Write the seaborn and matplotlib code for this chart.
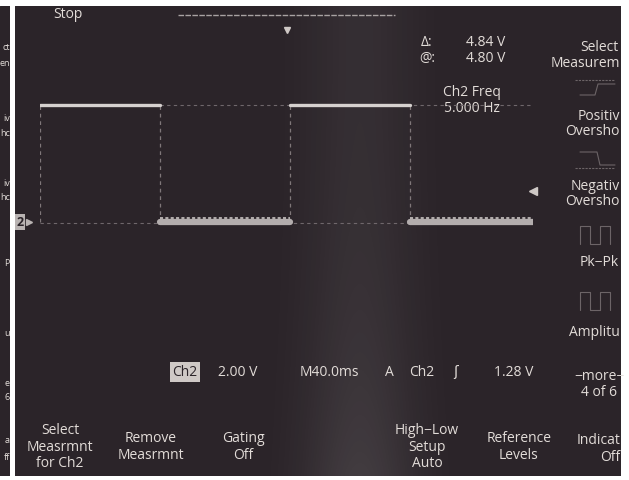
import numpy as np
import pandas as pd
import seaborn as sns
from matplotlib import pyplot as plt
from matplotlib.patches import Rectangle

# Ch2 square wave (2.00 V/div, 40.0 ms/div)
edge_ms = [0, 97, 203, 300, 400]       # transition times, ms from left of graticule
level_v = [4.80, 0.0, 4.80, 0.0]        # level held between the edges
cursor_v = [4.80, -0.04]                # the two H-bar cursors
trig_level_v = 1.28
trig_pos_ms = 200

readout_top = [('\u0394:', '4.84 V', 42), ('@:', '4.80 V', 58)]
freq_lines = ['Ch2 Freq', '5.000 Hz']
# right-hand menu, as much of each word as the photo shows
side_full = [('Select', 47), ('Pk\u2212Pk', 262), ('\u2212more\u2212', 376), ('4 of 6', 392)]
side_cut = [('Measurem', 63), ('Positiv', 116), ('Oversho', 131), ('Negativ', 186),
            ('Oversho', 201), ('Amplitu', 332), ('Indicat', 440), ('Off', 457)]
bottom_menu = ['Select\nMeasrmnt\nfor Ch2', 'Remove\nMeasrmnt', 'Gating\nOff', '',
               'High\u2212Low\nSetup\nAuto', 'Reference\nLevels']
bottom_menu_x = [60, 151, 243, 335, 427, 519]
left_bits = ['ct', 'en', 'iv', 'hc', 'iv', 'hc', 'P', 'u', 'e', '6', 'a', 'ff']
left_bits_y = [47, 63, 118, 133, 183, 197, 263, 333, 383, 397, 440, 457]

bg = '#2b2429'
fg = '#e2dcd8'
trace = '#d6d1cf'

sns.set_style('dark', {'axes.facecolor': bg})
plt.rcParams['font.family'] = ['Open Sans', 'DejaVu Sans']

W, H = 629, 480
fig = plt.figure(figsize=(W / 100, H / 100), dpi=100, facecolor='white')

def px_axes(x0, y0, x1, y1):
    a = fig.add_axes([x0 / W, 1 - y1 / H, (x1 - x0) / W, (y1 - y0) / H])
    a.set_axis_off()
    return a

# strip of the previous screenshot on the far left
left = px_axes(0, 6, 10, 476)
left.add_patch(Rectangle((0, 0), 1, 1, color=bg, transform=left.transAxes))
left.set_xlim(0, 10)
left.set_ylim(476, 6)
for s, y in zip(left_bits, left_bits_y):
    left.text(9.8, y, s, ha='right', va='center', color=fg, fontsize=6.5)

# the scope screen, in pixel units for the text layout
scr = px_axes(15, 6, 621, 476)
scr.set_xlim(15, 621)
scr.set_ylim(476, 6)
scr.add_patch(Rectangle((0, 0), 1, 1, color=bg, transform=scr.transAxes, zorder=0))
# soft lighter streak from the photo (texture only)
gx = np.linspace(15, 621, 300)
gy = np.linspace(6, 476, 120)
streak = np.exp(-((gx[None, :] - 360) / 55) ** 2) * (0.05 + 0.06 * (gy[:, None] / 476) ** 3)
scr.imshow(np.dstack([np.ones_like(streak)] * 3 + [streak]), extent=(15, 621, 476, 6),
           aspect='auto', zorder=0.5, interpolation='bilinear')

txt = dict(color=fg, fontsize=10, linespacing=1.15)
scr.text(68, 14, 'Stop', ha='center', va='center', **txt)
for lab, val, y in readout_top:
    scr.text(427, y, lab, ha='center', va='center', **txt)
    scr.text(505, y, val, ha='right', va='center', **txt)
scr.text(472, 92, freq_lines[0], ha='center', va='center', **txt)
scr.text(472, 108, freq_lines[1], ha='center', va='center', **txt)
for lab, y in side_full:
    scr.text(599, y, lab, ha='center', va='center', **txt)
for lab, y in side_cut:
    scr.text(620, y, lab, ha='right', va='center', **txt)
for lab, x in zip(bottom_menu, bottom_menu_x):
    scr.text(x, 447, lab, ha='center', va='center', **txt)

# bottom readout line
scr.text(185, 372, 'Ch2', ha='center', va='center', color=bg, fontsize=10,
         bbox=dict(boxstyle='square,pad=0.15', fc='#cfc9c6', ec='none'))
scr.text(218, 372, '2.00 V', ha='left', va='center', **txt)
scr.text(300, 372, 'M40.0ms', ha='left', va='center', **txt)
scr.text(389, 372, 'A', ha='center', va='center', **txt)
scr.text(422, 372, 'Ch2', ha='center', va='center', **txt)
scr.text(456, 372, '\u0283', ha='center', va='center', **txt)
scr.text(533, 372, '1.28 V', ha='right', va='center', **txt)

# faint menu pictograms
ic = dict(color='#6c6467', lw=0.8)
scr.plot([575, 615], [80, 80], ls=(0, (2, 1)), **ic)
scr.plot([580, 595, 598, 615], [95, 95, 84, 84], **ic)
scr.plot([580, 597, 600, 615], [152, 152, 165, 165], **ic)
scr.plot([575, 615], [168, 168], ls=(0, (2, 1)), **ic)
for yy in (226, 292):
    scr.plot([580, 580, 590, 590, 600, 600, 610, 610],
             [yy + 18, yy, yy, yy + 18, yy + 18, yy, yy, yy + 18], **ic)

# waveform on its own graticule axes
ax = px_axes(40, 15, 533, 429)
ax.set_xlim(0, 400)
ax.set_ylim(-8.5, 8.5)

t = np.repeat(edge_ms, 2)[1:-1]
v = np.repeat(level_v, 2)
df = pd.DataFrame({'t': t, 'v': v, 'seg': np.repeat(np.arange(len(level_v)), 2)})
hi = df[df.v > 1]
lo = df[df.v <= 1]

for cv in cursor_v:
    ax.axhline(cv, color='#6f676b', lw=0.8, ls=(0, (3, 3)), zorder=1)
sns.lineplot(data=lo, x='t', y='v', units='seg', estimator=None, color='#b3adad',
             lw=4.5, ax=ax, zorder=3)
sns.lineplot(data=lo.assign(v=lo.v + 0.17), x='t', y='v', units='seg', estimator=None,
             color=trace, lw=1.1, ls=(0, (2, 1.5)), ax=ax, zorder=4)
sns.lineplot(data=hi, x='t', y='v', units='seg', estimator=None, color=trace,
             lw=2.4, ax=ax, zorder=4)
ax.vlines(edge_ms[:-1], min(level_v), max(level_v), color='#7f7779', lw=0.9,
          ls=(0, (3, 3)), zorder=2)

# record bar, trigger position and trigger level markers
ax.plot([0.28, 0.72], [1, 1], transform=ax.transAxes, color='#a8a2a2', lw=1,
        ls=(0, (4, 1)), clip_on=False)
ax.plot(trig_pos_ms, 7.9, marker='v', ms=5, color='#cfc9c6', clip_on=False)
ax.plot(400, trig_level_v, marker='<', ms=6, color='#cfc9c6', clip_on=False)
ax.text(-16, 0, '2', ha='center', va='center', color=bg, fontsize=9, fontweight='bold',
        bbox=dict(boxstyle='square,pad=0.1', fc='#b9b3b2', ec='none'), clip_on=False)
ax.plot(-9, 0, marker='>', ms=5, color='#b9b3b2', clip_on=False)
ax.set_axis_off()

fig.savefig('out.png', dpi=100, facecolor='white')
